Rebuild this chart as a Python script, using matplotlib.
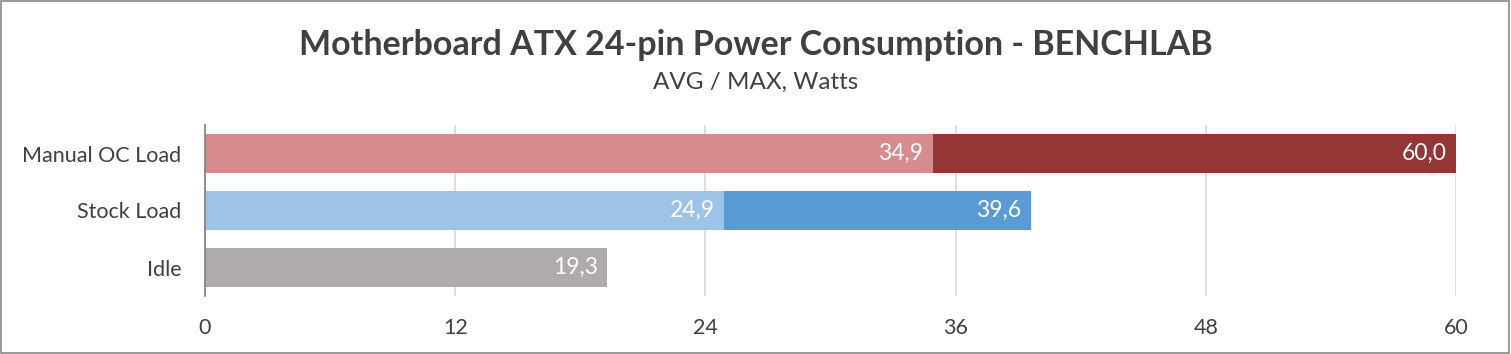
import matplotlib.pyplot as plt
from matplotlib.patches import Rectangle

categories = ['Idle', 'Stock Load', 'Manual OC Load']
avg_vals = [19.3, 24.9, 34.9]
max_vals = [None, 39.6, 60.0]
avg_colors = ['#AFABAB', '#9DC3E6', '#D68C8C']
max_colors = [None, '#5B9BD5', '#943636']
ticks = [0, 12, 24, 36, 48, 60]

plt.rcParams['font.family'] = ['Lato', 'DejaVu Sans']

fig = plt.figure(figsize=(15.11, 3.54), dpi=100)
ax = fig.add_axes([205 / 1511, 1 - 296 / 354, (1456 - 205) / 1511, 171 / 354])

y = range(len(categories))
h = 0.684
for i in y:
    ax.barh(i, avg_vals[i], height=h, color=avg_colors[i], zorder=3)
    ax.text(avg_vals[i] - 0.45, i, f'{avg_vals[i]:.1f}'.replace('.', ','),
            ha='right', va='center', color='white', fontsize=16.5, zorder=4)
    if max_vals[i] is not None:
        ax.barh(i, max_vals[i] - avg_vals[i], left=avg_vals[i], height=h,
                color=max_colors[i], zorder=3)
        ax.text(max_vals[i] - 0.45, i, f'{max_vals[i]:.1f}'.replace('.', ','),
                ha='right', va='center', color='white', fontsize=16.5, zorder=4)

ax.set_xlim(0, 60)
ax.set_ylim(-0.5, 2.5)
ax.set_xticks(ticks)
ax.set_xticklabels([str(t) for t in ticks], fontsize=15.5, color='#404040')
ax.set_yticks(list(y))
ax.set_yticklabels(categories, fontsize=15.5, color='#404040')
ax.tick_params(axis='both', length=0)
ax.tick_params(axis='y', pad=17)
ax.tick_params(axis='x', pad=16)
ax.grid(axis='x', color='#D9D9D9', linewidth=1.2, zorder=0)
for s in ['top', 'right', 'bottom']:
    ax.spines[s].set_visible(False)
ax.spines['left'].set_color('#7F7F7F')
ax.spines['left'].set_linewidth(1.2)
ax.spines['left'].set_zorder(5)

fig.text(0.5, 1 - 45 / 354, 'Motherboard ATX 24-pin Power Consumption - BENCHLAB',
         ha='center', va='center', fontsize=24.5, fontweight='bold', color='#404040')
fig.text(0.5, 1 - 82 / 354, 'AVG / MAX, Watts', ha='center', va='center',
         fontsize=17.5, color='#404040')

fig.patches.append(Rectangle((0.0005, 0.002), 0.998, 0.995, transform=fig.transFigure,
                             fill=False, edgecolor='#898989', linewidth=1.2))

fig.savefig('out.png', dpi=100)
